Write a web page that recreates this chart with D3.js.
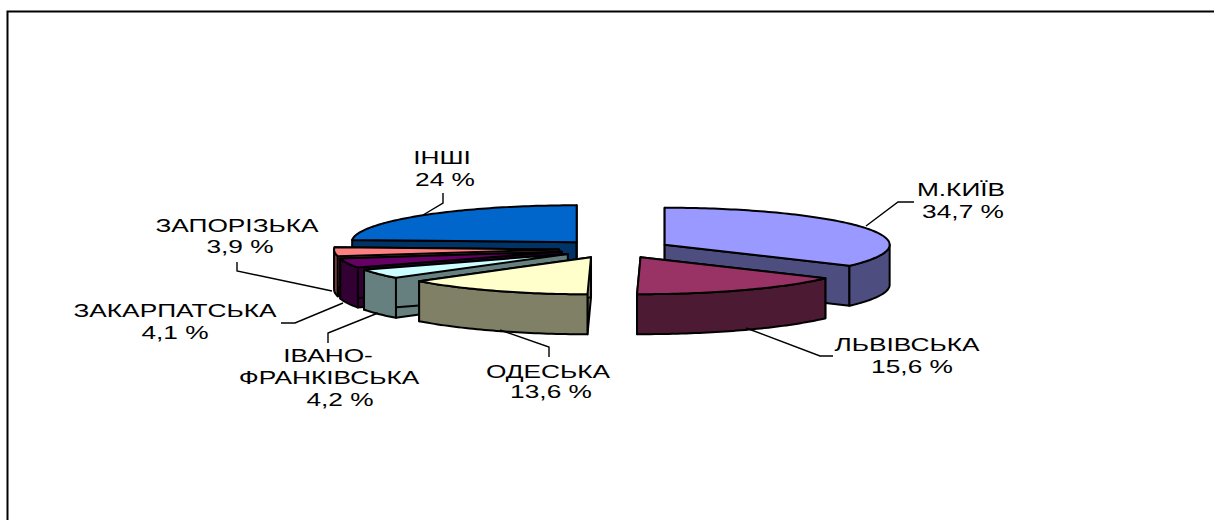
<!DOCTYPE html>
<html>
<head>
<meta charset="utf-8">
<title>Chart</title>
<script src="https://cdn.jsdelivr.net/npm/d3@7"></script>
<style>
  html, body { margin: 0; padding: 0; background: #fff; }
  svg { display: block; }
  text { font-family: "Liberation Sans", Arial, sans-serif; font-size: 18px; fill: #000; text-anchor: middle; }
</style>
</head>
<body>
<div class="graph"></div>
<script>
(function(){
'use strict';

// data
var categories = ['М.КИЇВ', 'ЛЬВІВСЬКА', 'ОДЕСЬКА', 'ІВАНО-ФРАНКІВСЬКА', 'ЗАКАРПАТСЬКА', 'ЗАПОРІЗЬКА', 'ІНШІ'];
var shares = [34.7, 15.6, 13.6, 4.2, 4.1, 3.9, 24];
var valueLabels = ['34,7 %', '15,6 %', '13,6 %', '4,2 %', '4,1 %', '3,9 %', '24 %'];

// styles
var topColors = ['#9999ff', '#993366', '#ffffcc', '#ccffff', '#660066', '#ff8080', '#0066cc'];
var sideColors = ['#4d4d80', '#4d1a33', '#808066', '#668080', '#330033', '#804040', '#003366'];
var drawOrder = [6, 5, 4, 0, 3, 1, 2];

// label layout: name lines and value line, centred on x, one baseline each
var labelLayout = [
  {lines: [[categories[0], 961, 196], [valueLabels[0], 963, 218]], leader: [[866, 226], [898, 202], [914, 202]]},
  {lines: [[categories[1], 907, 351], [valueLabels[1], 912, 373]], leader: [[746, 328], [820, 356], [833, 356]]},
  {lines: [[categories[2], 548, 378], [valueLabels[2], 551, 398]], leader: [[500, 330], [549, 347], [549, 357]]},
  {lines: [['ІВАНО-', 328, 362], ['ФРАНКІВСЬКА', 329, 384], [valueLabels[3], 340, 406]], leader: [[378, 313], [328, 333], [328, 343]]},
  {lines: [[categories[4], 175, 317], [valueLabels[4], 175, 339]], leader: [[343, 303], [295, 323], [281, 323]]},
  {lines: [[categories[5], 237, 232], [valueLabels[5], 240, 253]], leader: [[332, 291], [237, 271], [237, 262]]},
  {lines: [[categories[6], 442, 164], [valueLabels[6], 445, 186]], leader: [[423, 215], [443, 203], [443, 193]]}
];

var width = 1214, height = 520;
var cx = 615, cy = 249, rx = 225, ry = 37, depth = 40, explode = 0.249;
var textStretch = 1.46; // the labels are drawn wide in the original

var vis = d3.select('.graph').append('svg').attr('width', width).attr('height', height);

// frame runs off the right and bottom of the picture
vis.append('path')
  .attr('d', 'M7.5,' + height + 'V11.5H' + width)
  .attr('fill', 'none')
  .attr('stroke', '#000')
  .attr('stroke-width', 2);

var xScale = d3.scaleLinear().domain([-1, 1]).range([cx - rx, cx + rx]);
var yScale = d3.scaleLinear().domain([-1, 1]).range([cy - ry, cy + ry]);

var arcs = d3.pie().sort(null).value(function(d) { return d; })(shares);

var line = d3.line();

// point on the rim of a slice (t = 1) or its apex (t = 0), on the top face
var point = function(d, angle, t, drop) {
  var mid = (d.startAngle + d.endAngle) / 2;
  return [
    xScale(t * Math.sin(angle) + explode * Math.sin(mid)),
    yScale(-t * Math.cos(angle) - explode * Math.cos(mid)) + (drop || 0)
  ];
};

var rim = function(d, a0, a1, drop) {
  var n = Math.max(2, Math.ceil((a1 - a0) / 0.02));
  return d3.range(n + 1).map(function(i) {
    return point(d, a0 + (a1 - a0) * i / n, 1, drop);
  });
};

var radialWall = function(d, angle) {
  return line([
    point(d, angle, 0), point(d, angle, 1),
    point(d, angle, 1, depth), point(d, angle, 0, depth)
  ]) + 'Z';
};

var slices = vis.selectAll('g.slice')
  .data(drawOrder.map(function(i) { return arcs[i]; }))
  .enter().append('g')
  .attr('class', 'slice')
  .attr('stroke', '#000')
  .attr('stroke-width', 2)
  .attr('stroke-linejoin', 'round');

slices.each(function(d) {
  var g = d3.select(this);
  var side = sideColors[d.index];

  g.append('path').attr('d', radialWall(d, d.startAngle)).attr('fill', side);
  g.append('path').attr('d', radialWall(d, d.endAngle)).attr('fill', side);

  // outer wall, only the front half of the ellipse shows
  var a0 = Math.max(d.startAngle, Math.PI / 2);
  var a1 = Math.min(d.endAngle, Math.PI * 3 / 2);
  if (a1 > a0) {
    g.append('path')
      .attr('d', line(rim(d, a0, a1).concat(rim(d, a0, a1, depth).reverse())) + 'Z')
      .attr('fill', side);
  }

  g.append('path')
    .attr('d', line([point(d, d.startAngle, 0)].concat(rim(d, d.startAngle, d.endAngle))) + 'Z')
    .attr('fill', topColors[d.index]);
});

vis.selectAll('path.leader')
  .data(labelLayout)
  .enter().append('path')
  .attr('class', 'leader')
  .attr('d', function(d) { return line(d.leader); })
  .attr('fill', 'none')
  .attr('stroke', '#000')
  .attr('stroke-width', 1.4);

var labels = vis.selectAll('g.label')
  .data(labelLayout)
  .enter().append('g')
  .attr('class', 'label');

labels.selectAll('text')
  .data(function(d) { return d.lines; })
  .enter().append('text')
  .attr('transform', function(d) { return 'translate(' + d[1] + ',' + d[2] + ') scale(' + textStretch + ',1)'; })
  .text(function(d) { return d[0]; });
})();
</script>
</body>
</html>
